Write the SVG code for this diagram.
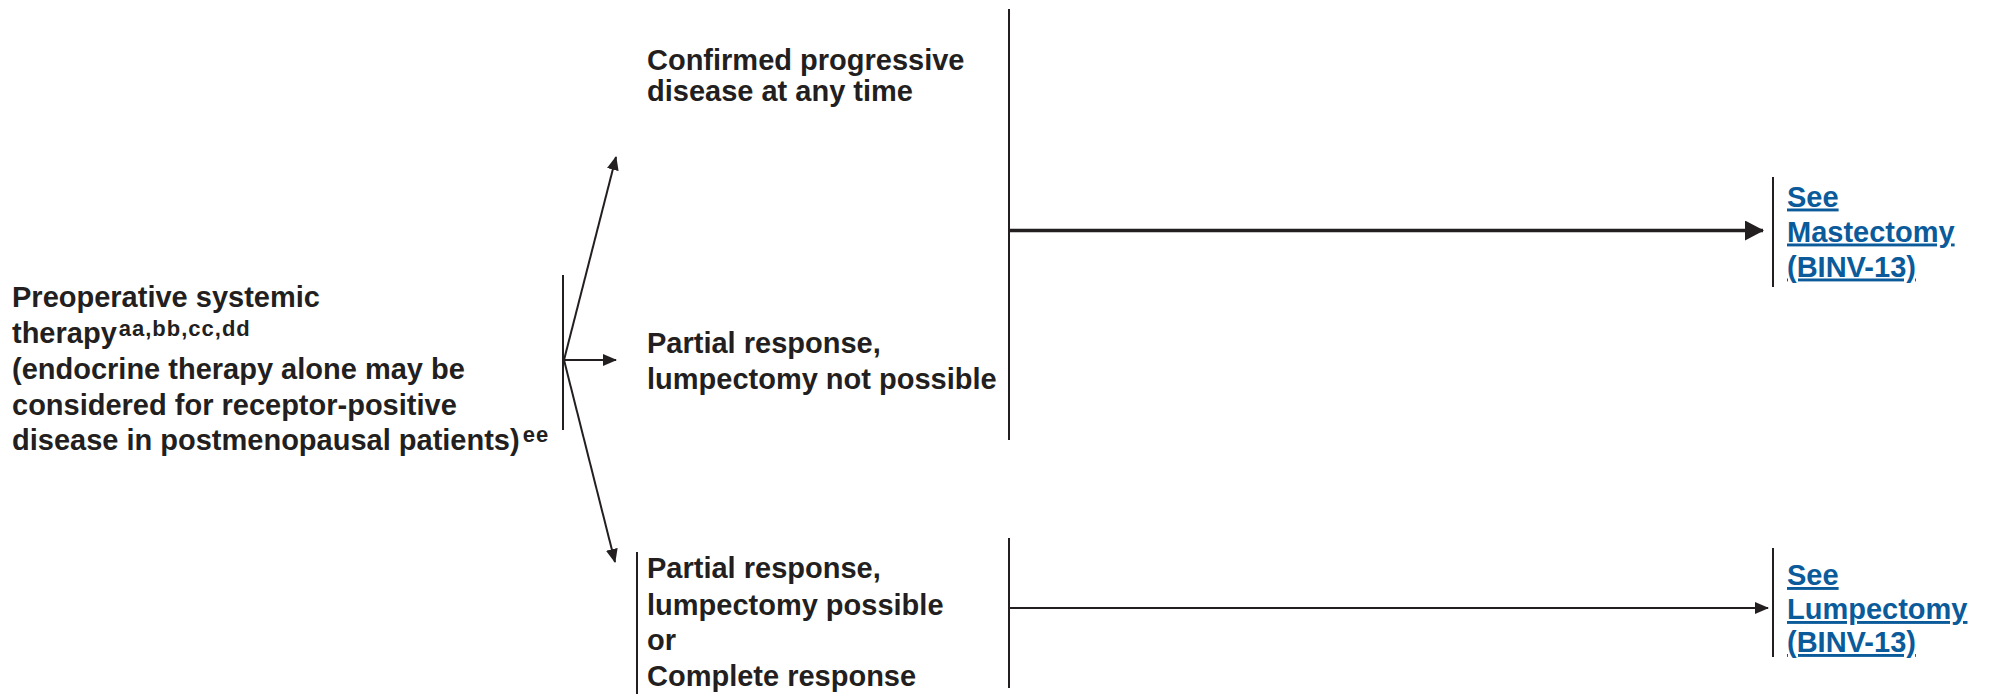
<svg xmlns="http://www.w3.org/2000/svg" width="2000" height="694" viewBox="0 0 2000 694">
  <style>
    text { font-family: "Liberation Sans", Arial, sans-serif; font-weight: bold; font-size: 29px; fill: #231f20; }
    .sup { font-size: 22px; letter-spacing: 1px; }
    .link { fill: #0b5b9b; text-decoration: underline; }
    .ln { stroke: #231f20; stroke-width: 2; fill: none; }
    .thick { stroke: #231f20; stroke-width: 3.5; fill: none; }
  </style>
  <defs>
    <marker id="arrow" markerUnits="userSpaceOnUse" markerWidth="14" markerHeight="12" refX="13" refY="6" orient="auto">
      <path d="M0,0 L14,6 L0,12 z" fill="#231f20"/>
    </marker>
    <marker id="arrowBig" markerUnits="userSpaceOnUse" markerWidth="19" markerHeight="20" refX="18" refY="10" orient="auto">
      <path d="M0,0 L19,10 L0,20 z" fill="#231f20"/>
    </marker>
  </defs>
  <rect width="2000" height="694" fill="#ffffff"/>

  <g id="start">
    <text x="12" y="307">Preoperative systemic</text>
    <text x="12" y="343">therapy<tspan class="sup" dx="2" dy="-7">aa,bb,cc,dd</tspan></text>
    <text x="12" y="378.5">(endocrine therapy alone may be</text>
    <text x="12" y="414.5">considered for receptor-positive</text>
    <text x="12" y="450">disease in postmenopausal patients)<tspan class="sup" dx="3" dy="-8">ee</tspan></text>
  </g>

  <g id="progressive">
    <text x="647" y="70">Confirmed progressive</text>
    <text x="647" y="101">disease at any time</text>
  </g>

  <g id="partial-not-possible">
    <text x="647" y="353">Partial response,</text>
    <text x="647" y="389">lumpectomy not possible</text>
  </g>

  <g id="partial-possible">
    <text x="647" y="578">Partial response,</text>
    <text x="647" y="614.5">lumpectomy possible</text>
    <text x="647" y="650">or</text>
    <text x="647" y="685.5">Complete response</text>
  </g>

  <g id="mastectomy">
    <text class="link" x="1787" y="206.5">See</text>
    <text class="link" x="1787" y="241.5">Mastectomy</text>
    <text class="link" x="1787" y="276.5">(BINV-13)</text>
  </g>

  <g id="lumpectomy">
    <text class="link" x="1787" y="585">See</text>
    <text class="link" x="1787" y="619">Lumpectomy</text>
    <text class="link" x="1787" y="652">(BINV-13)</text>
  </g>

  <g id="connectors">
    <line class="ln" x1="563" y1="275" x2="563" y2="430"/>
    <line class="ln" x1="1009" y1="9" x2="1009" y2="440"/>
    <line class="ln" x1="637" y1="552" x2="637" y2="694"/>
    <line class="ln" x1="1009" y1="538" x2="1009" y2="688"/>
    <line class="ln" x1="1773" y1="177" x2="1773" y2="287"/>
    <line class="ln" x1="1773" y1="548" x2="1773" y2="657"/>
    <line class="ln" x1="564" y1="360" x2="616" y2="157" marker-end="url(#arrow)"/>
    <line class="ln" x1="564" y1="360" x2="616" y2="360" marker-end="url(#arrow)"/>
    <line class="ln" x1="564" y1="360" x2="615" y2="562" marker-end="url(#arrow)"/>
    <line class="thick" x1="1010" y1="230.5" x2="1763" y2="230.5" marker-end="url(#arrowBig)"/>
    <line class="ln" x1="1010" y1="608" x2="1768" y2="608" marker-end="url(#arrow)"/>
  </g>
</svg>
